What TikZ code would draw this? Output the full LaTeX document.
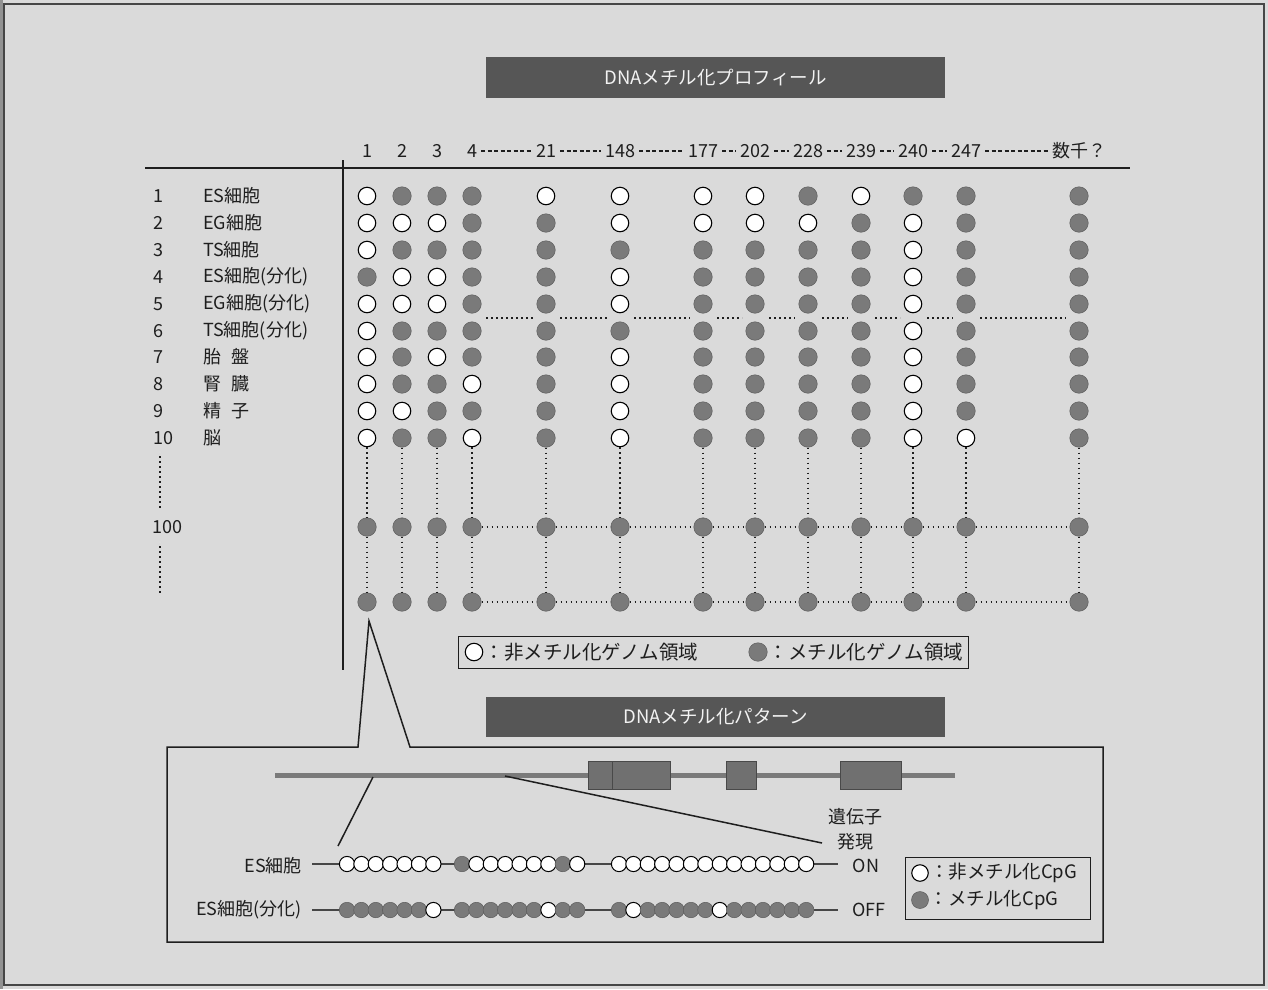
\documentclass[tikz,border=0pt]{standalone}
\usepackage{fontspec}
\setmainfont{Noto Sans CJK JP}
\usetikzlibrary{calc}
\definecolor{bg}{RGB}{218,218,218}
\definecolor{dotg}{RGB}{122,122,122}
\definecolor{titleg}{RGB}{86,86,86}
\definecolor{lineg}{RGB}{30,30,30}
\begin{document}
\begin{tikzpicture}[x=1pt,y=-1pt,
  lab/.style={inner sep=1pt, font=\fontsize{18}{20}\selectfont, text=lineg},
  hdr/.style={inner sep=2pt, font=\fontsize{18}{20}\selectfont, text=lineg},
  titlebox/.style={fill=titleg, text=white!90!gray, font=\fontsize{18.5}{20}\selectfont, inner sep=0pt, minimum width=459, minimum height=41},
  rule/.style={draw=lineg, line width=1.5},
  hdash/.style={draw=lineg, line width=1.3, dash pattern=on 4pt off 2.5pt, shorten >=2, shorten <=2},
  dotl/.style={draw=lineg, line width=1.9, dash pattern=on 1.8pt off 3.2pt},
  dot0/.style={circle, draw=black, fill=white, line width=1.1, minimum size=17.5, inner sep=0pt},
  dot1/.style={circle, draw=dotg!75!black, fill=dotg, line width=0.5, minimum size=18.5, inner sep=0pt},
  cpg0/.style={circle, draw=black, fill=white, line width=1, minimum size=15.2, inner sep=0pt},
  cpg1/.style={circle, draw=dotg!75!black, fill=dotg, line width=0.5, minimum size=15.5, inner sep=0pt},
  legbox/.style={draw=lineg, line width=1, inner sep=0pt},
  exon/.style={fill=dotg!92!black, draw=dotg!60!black, line width=0.6, inner sep=0pt, minimum height=28},
  cpgline/.style={draw=gray!55!black, line width=1.2},
  thin/.style={draw=lineg, line width=1.5},
]
\useasboundingbox (0,0) rectangle (1268,989);
\fill[bg] (0,0) rectangle (1268,989);
\draw[gray!55!black, line width=1.5] (4,4) rectangle (1264,985);
\fill[gray!60!black, opacity=0.5] (0,0) rectangle (3,989);

% ---------- title ----------
\node[titlebox] (t1) at (715.5,77.5) {DNAメチル化プロフィール};

% ---------- rules ----------
\coordinate (hl) at (145,168); \coordinate (hr) at (1130,168);
\draw[rule] (hl) -- (hr);
\coordinate (vt) at (343,160); \coordinate (vb) at (343,670);
\draw[rule] (vt) -- (vb);

% ---------- header ----------
\def\xs{{0,367,402,437,472,546,620,703,755,808,861,913,966,1079}}
\foreach \t [count=\i] in {1,2,3,4,21,148,177,202,228,239,240,247} {
  \pgfmathsetmacro\x{\xs[\i]}
  \node[hdr] (h-\i) at (\x,151) {\t};
}
\node[hdr] (h-13) at (1079,151) {数千？};
\foreach \a/\b in {4/5,5/6,6/7,7/8,8/9,9/10,10/11,11/12,12/13}
  \draw[hdash] (h-\a) -- (h-\b);

% ---------- row labels ----------
\foreach \r/\y/\t in {1/196/{ES細胞},2/223/{EG細胞},3/250/{TS細胞},4/277/{ES細胞(分化)},5/304/{EG細胞(分化)},6/331/{TS細胞(分化)},7/357/{胎\hspace{0.55em}盤},8/384/{腎\hspace{0.55em}臓},9/411/{精\hspace{0.55em}子},10/438/{脳}} {
  \node[lab, anchor=west] (rn-\r) at (152,\y) {\r};
  \node[lab, anchor=west] (rl-\r) at (202,\y) {\t};
}
\node[lab, anchor=west] (rn-100) at (151,527) {100};
\coordinate (lv1) at (160,456); \coordinate (lv2) at (160,508);
\coordinate (lv3) at (160,546); \coordinate (lv4) at (160,594);
\draw[dotl] (lv1) -- (lv2);
\draw[dotl] (lv3) -- (lv4);

% ---------- dots ----------
\foreach \r/\y/\p in {
  1/196/{0,1,1,1,0,0,0,0,1,0,1,1,1},
  2/223/{0,0,0,1,1,0,0,0,0,1,0,1,1},
  3/250/{0,1,1,1,1,1,1,1,1,1,0,1,1},
  4/277/{1,0,0,1,1,0,1,1,1,1,0,1,1},
  5/304/{0,0,0,1,1,0,1,1,1,1,0,1,1},
  6/331/{0,1,1,1,1,1,1,1,1,1,0,1,1},
  7/357/{0,1,0,1,1,0,1,1,1,1,0,1,1},
  8/384/{0,1,1,0,1,0,1,1,1,1,0,1,1},
  9/411/{0,0,1,1,1,0,1,1,1,1,0,1,1},
  10/438/{0,1,1,0,1,0,1,1,1,1,0,0,1},
  100/527/{1,1,1,1,1,1,1,1,1,1,1,1,1},
  N/602/{1,1,1,1,1,1,1,1,1,1,1,1,1}} {
  \foreach \s [count=\i] in \p {
    \pgfmathsetmacro\x{\xs[\i]}
    \node[dot\s] (d-\r-\i) at (\x,\y) {};
  }
}

% ---------- dotted connectors ----------
\foreach \i in {1,...,13} {
  \draw[dotl] (d-10-\i) -- (d-100-\i);
  \draw[dotl] (d-100-\i) -- (d-N-\i);
}
\foreach \a/\b in {4/5,5/6,6/7,7/8,8/9,9/10,10/11,11/12,12/13} {
  \draw[dotl] (d-100-\a) -- (d-100-\b);
  \draw[dotl] (d-N-\a) -- (d-N-\b);
  \draw[dotl] ($(d-5-\a)!.5!(d-6-\a)+(14,0.5)$) -- ($(d-5-\b)!.5!(d-6-\b)+(-13,0.5)$);
}

% ---------- legend 1 ----------
\node[legbox, minimum width=510, minimum height=32] (leg1) at (713,652) {};
\node[dot0] (lo1) at (474,652) {};
\node[lab, anchor=west, font=\fontsize{19.5}{21}\selectfont] (lt1) at (lo1.east) {：非メチル化ゲノム領域};
\node[dot1] (lf1) at (758,652) {};
\node[lab, anchor=west, font=\fontsize{19.5}{21}\selectfont] (lt2) at (lf1.east) {：メチル化ゲノム領域};

% ---------- title 2 ----------
\node[titlebox, minimum height=40] (t2) at (715.5,717) {DNAメチル化パターン};

% ---------- panel with callout ----------
\coordinate (apex) at (369,621);
\coordinate (pl) at (358,747); \coordinate (pr) at (410,747);
\draw[thin] (pr) -- (apex) -- (pl) -- (167,747) -- (167,942) -- (1103,942) -- (1103,747) -- cycle;

% gene
\coordinate (gl) at (275,775); \coordinate (gr) at (955,775);
\draw[draw=dotg, line width=5] (gl) -- (gr);
\node[exon, minimum width=24] (e1) at (600,775.5) {};
\node[exon, minimum width=58] (e2) at (641,775.5) {};
\node[exon, minimum width=30] (e3) at (741,775.5) {};
\node[exon, minimum width=61] (e4) at (870.5,775.5) {};

% zoom lines
\coordinate (s1a) at (373,777); \coordinate (s1b) at (338,846);
\coordinate (s2a) at (505,776); \coordinate (s2b) at (822,843);
\draw[thin] (s1a) -- (s1b);
\draw[thin] (s2a) -- (s2b);

% CpG rows
\node[lab, anchor=east] (ra) at (303,866) {ES細胞};
\node[lab, anchor=east] (rb) at (303,910) {ES細胞(分化)};
\coordinate (ea) at (838,864); \coordinate (eb) at (838,910);
\draw[cpgline] (ra.east) ++(9,-2) -- (ea);
\draw[cpgline] (rb.east) ++(9,0) -- (eb);
\foreach \row/\y/\pa/\pb/\pc in {
  a/864/{0,0,0,0,0,0,0}/{1,0,0,0,0,0,0,1,0}/{0,0,0,0,0,0,0,0,0,0,0,0,0,0},
  b/910/{1,1,1,1,1,1,0}/{1,1,1,1,1,1,0,1,1}/{1,0,1,1,1,1,1,0,1,1,1,1,1,1}} {
  \foreach \s [count=\k from 0] in \pa
    \node[cpg\s] (c-\row-1-\k) at ({347+14.4*\k},\y) {};
  \foreach \s [count=\k from 0] in \pb
    \node[cpg\s] (c-\row-2-\k) at ({462+14.4*\k},\y) {};
  \foreach \s [count=\k from 0] in \pc
    \node[cpg\s] (c-\row-3-\k) at ({619+14.4*\k},\y) {};
}

\node[lab] (ig1) at (855,817) {遺伝子};
\node[lab] (ig2) at (855,842) {発現};
\node[lab] (on) at (866,866) {ON};
\node[lab] (off) at (869,910) {OFF};

% legend 2
\node[legbox, minimum width=185, minimum height=62] (leg2) at (997.5,888) {};
\node[dot0, minimum size=16.5] (lo2) at (920,873) {};
\node[lab, anchor=west, font=\fontsize{18.5}{20}\selectfont] (lt3) at (lo2.east) {：非メチル化CpG};
\node[dot1, minimum size=17] (lf2) at (920,900) {};
\node[lab, anchor=west, font=\fontsize{18.5}{20}\selectfont] (lt4) at (lf2.east) {：メチル化CpG};
\end{tikzpicture}
\end{document}
